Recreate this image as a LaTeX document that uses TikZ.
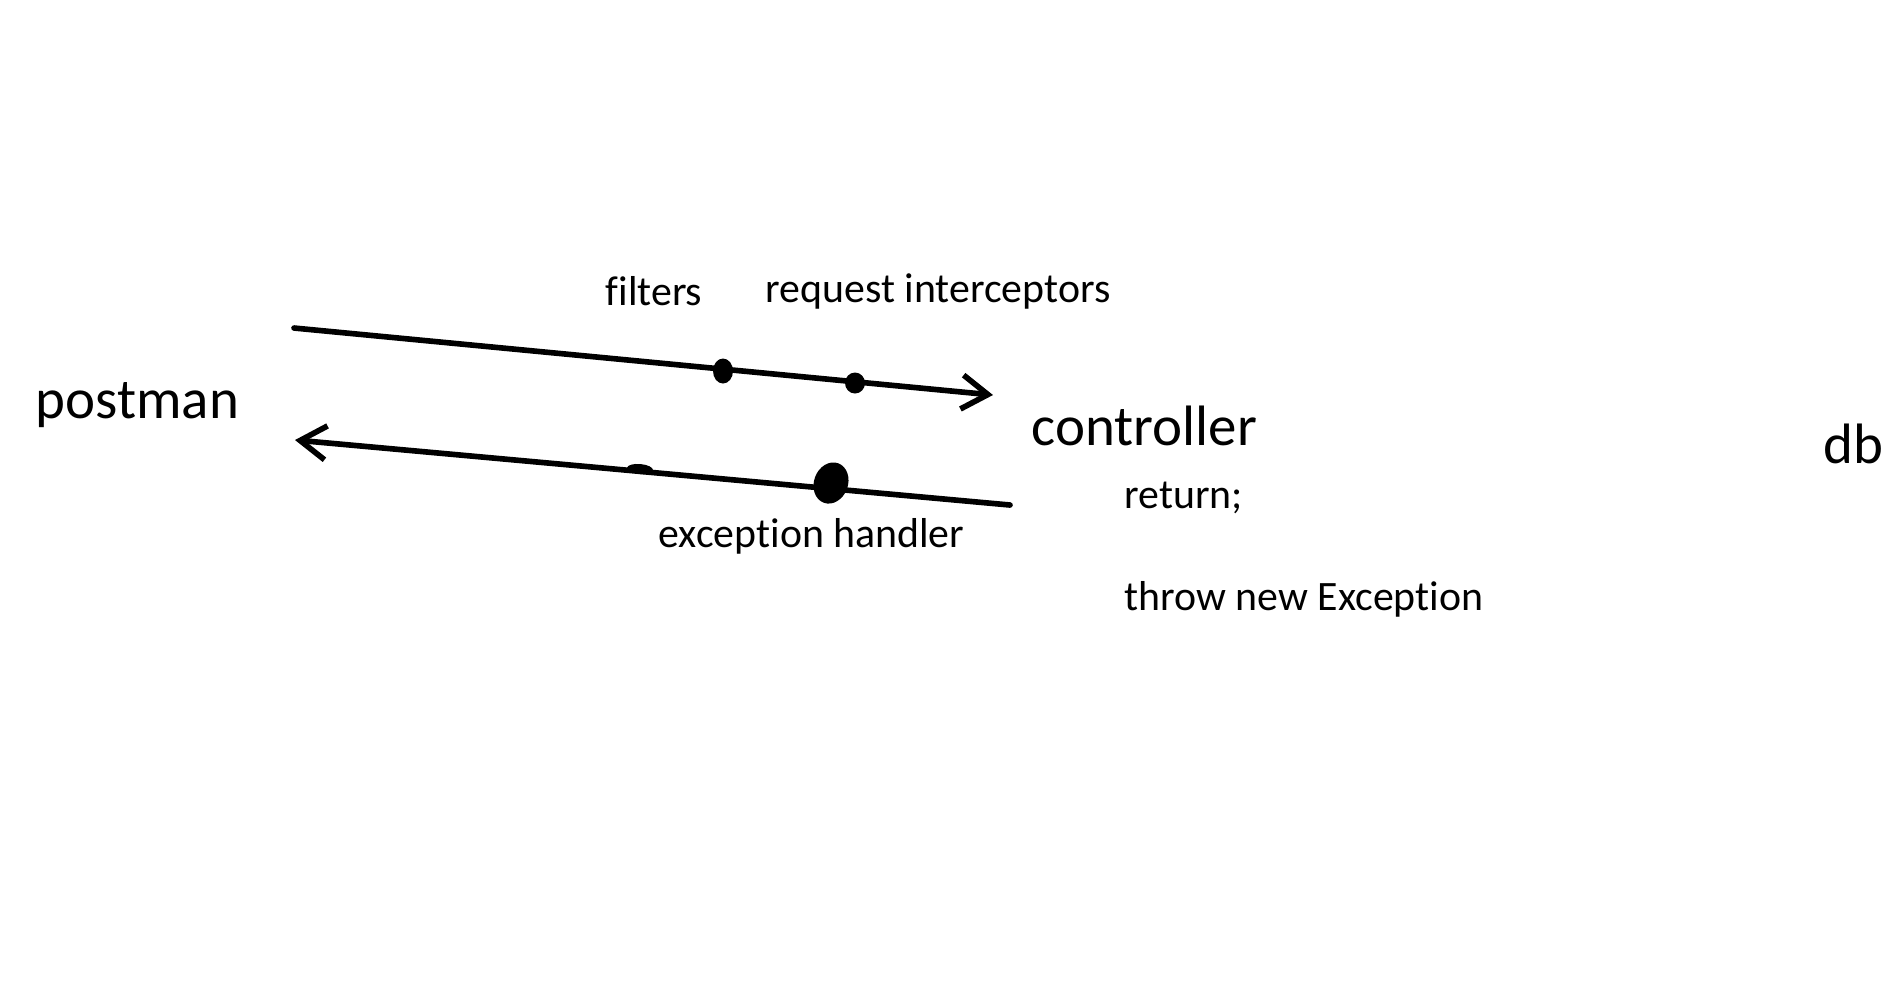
\documentclass[tikz,border=0pt]{standalone}
\usepackage{fontspec}
\setmainfont{Carlito}[Ligatures=NoCommon]
\usepackage{tikz}
\usetikzlibrary{shapes, arrows.meta}
\tikzset{
  big/.style = {anchor=base west, inner sep=0pt, font=\fontsize{16.2}{19}\selectfont},
  small/.style = {anchor=base west, inner sep=0pt, font=\fontsize{11.9}{14}\selectfont},
  hook/.style = {ellipse, fill=black, inner sep=0pt},
  flow/.style = {line width=1.6pt, line cap=round, black, -{Straight Barb[length=2.6mm, width=3.4mm, line width=1.6pt]}}
}
\begin{document}
\begin{tikzpicture}
  \useasboundingbox (0,0) rectangle (18.89,-9.80);

  % Endpoints
  \node (postman) [big] at (0.35,-4.18) {postman};
  \node (controller) [big] at (10.31,-4.45) {controller};
  \node (db) [big] at (18.23,-4.63) {db};

  % Labels
  \node (filters) [small] at (6.05,-3.05) {filters};
  \node (interceptors) [small] at (7.65,-3.02) {request interceptors};
  \node (handler) [small] at (6.58,-5.47) {exception handler};
  \node (return) [small] at (11.24,-5.08) {return;};
  \node (throw) [small] at (11.24,-6.10) {throw new Exception};

  % Line ends
  \coordinate (reqstart) at (2.94,-3.28);
  \coordinate (reqend) at (9.93,-3.95);
  \coordinate (resstart) at (10.10,-5.05);
  \coordinate (resend) at (2.95,-4.40);

  % Request and response
  \draw[flow] (reqstart) -- (reqend);
  \draw[flow] (resstart) -- (resend);

  % Stops on the way
  \node (filterdot) [hook, minimum width=2.0mm, minimum height=2.5mm] at (7.23,-3.71) {};
  \node (interceptordot) [hook, minimum width=2.0mm, minimum height=2.1mm] at (8.55,-3.83) {};
  \node (handlerdot) [hook, minimum width=4.2mm, minimum height=3.4mm, rotate=70] at (8.31,-4.83) {};
  \node (returndot) [hook, minimum width=2.6mm, minimum height=1.0mm, rotate=-5] at (6.40,-4.69) {};
\end{tikzpicture}
\end{document}
